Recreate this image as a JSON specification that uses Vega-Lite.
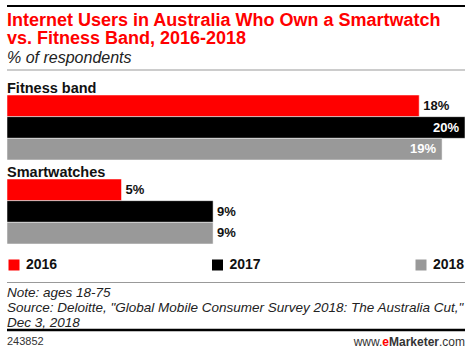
{
  "$schema": "https://vega.github.io/schema/vega-lite/v6.json",
  "padding": {"left": 6, "right": 6, "top": 5, "bottom": 0},
  "spacing": 0,
  "background": "white",
  "config": {"view": {"stroke": null}, "font": "Liberation Sans"},
  "resolve": {"scale": {"color": "independent"}, "legend": {"color": "independent"}},
  "vconcat": [
    {
      "width": 458,
      "height": 75.5,
      "resolve": {"scale": {"x": "independent", "y": "independent"}},
      "layer": [
        {
          "data": {"values": [{"i": 1, "t": "Internet Users in Australia Who Own a Smartwatch"}, {"i": 2, "t": "vs. Fitness Band, 2016-2018"}]},
          "mark": {"type": "text", "align": "left", "baseline": "middle", "font": "Liberation Sans", "fontSize": 18, "fontWeight": "bold", "color": "#ff0000"},
          "encoding": {
            "x": {"value": 0},
            "y": {"field": "i", "type": "ordinal", "axis": null, "scale": {"type": "point", "domain": [1, 2, 3], "padding": 1, "align": 0.413}},
            "text": {"field": "t"}
          }
        },
        {
          "data": {"values": [{"i": 3, "t": "% of respondents"}]},
          "mark": {"type": "text", "align": "left", "baseline": "middle", "font": "Liberation Sans", "fontSize": 16, "fontStyle": "italic", "color": "#222222"},
          "encoding": {
            "x": {"value": 0},
            "y": {"field": "i", "type": "ordinal", "axis": null, "scale": {"type": "point", "domain": [1, 2, 3], "padding": 1, "align": 0.413}},
            "text": {"field": "t"}
          }
        },
        {
          "data": {"values": [{"line": "top"}]},
          "mark": {"type": "bar", "color": "#000000"},
          "encoding": {
            "x": {"field": "line", "type": "nominal", "axis": null, "scale": {"paddingInner": 0, "paddingOuter": 0}},
            "y": {"aggregate": "count", "type": "quantitative", "axis": null, "scale": {"domain": [0, 37.75], "nice": false, "reverse": true}}
          }
        },
        {
          "data": {"values": [{"line": "under title"}]},
          "mark": {"type": "bar", "color": "#999999"},
          "encoding": {
            "x": {"field": "line", "type": "nominal", "axis": null, "scale": {"paddingInner": 0, "paddingOuter": 0}},
            "y": {"aggregate": "count", "type": "quantitative", "axis": null, "scale": {"domain": [-10, 65.5], "nice": false}}
          }
        }
      ]
    },
    {
      "data": {
        "values": [
          {"group": "Fitness band", "year": "2016", "value": 0.18},
          {"group": "Fitness band", "year": "2017", "value": 0.20},
          {"group": "Fitness band", "year": "2018", "value": 0.19},
          {"group": "Smartwatches", "year": "2016", "value": 0.05},
          {"group": "Smartwatches", "year": "2017", "value": 0.09},
          {"group": "Smartwatches", "year": "2018", "value": 0.09}
        ]
      },
      "facet": {
        "field": "group",
        "type": "nominal",
        "sort": ["Fitness band", "Smartwatches"],
        "header": {
          "title": null,
          "labelAnchor": "start",
          "labelFont": "Liberation Sans",
          "labelFontSize": 14.5,
          "labelFontWeight": "bold",
          "labelColor": "#111111",
          "labelPadding": -2
        }
      },
      "columns": 1,
      "spacing": {"row": 4},
      "spec": {
        "width": 458,
        "height": 65,
        "encoding": {
          "y": {"field": "year", "type": "nominal", "axis": null, "scale": {"paddingInner": 0, "paddingOuter": 0}},
          "x": {"field": "value", "type": "quantitative", "axis": null, "scale": {"domain": [0, 0.2], "nice": false, "zero": true}}
        },
        "layer": [
          {
            "mark": {"type": "bar", "stroke": "#ffffff", "strokeWidth": 0.5},
            "encoding": {
              "color": {
                "field": "year",
                "type": "nominal",
                "scale": {"domain": ["2016", "2017", "2018"], "range": ["#ff0000", "#000000", "#999999"]},
                "legend": {
                  "title": null,
                  "orient": "bottom",
                  "direction": "horizontal",
                  "symbolType": "square",
                  "symbolSize": 121,
                  "symbolStrokeWidth": 0,
                  "symbolOpacity": 1,
                  "labelFont": "Liberation Sans",
                  "labelFontSize": 14,
                  "labelFontWeight": "bold",
                  "labelColor": "#111111",
                  "labelOffset": 5,
                  "columnPadding": 152.5,
                  "offset": 13,
                  "padding": 0
                }
              }
            }
          },
          {
            "transform": [{"filter": "datum.value < 0.19"}],
            "mark": {"type": "text", "align": "left", "baseline": "middle", "dx": 4, "font": "Liberation Sans", "fontSize": 13, "fontWeight": "bold", "color": "#111111"},
            "encoding": {"text": {"field": "value", "type": "quantitative", "format": ".0%"}}
          },
          {
            "transform": [{"filter": "datum.value >= 0.19"}],
            "mark": {"type": "text", "align": "right", "baseline": "middle", "dx": -6, "font": "Liberation Sans", "fontSize": 13, "fontWeight": "bold", "color": "#ffffff"},
            "encoding": {"text": {"field": "value", "type": "quantitative", "format": ".0%"}}
          }
        ]
      }
    },
    {
      "width": 458,
      "height": 59.2,
      "resolve": {"scale": {"x": "independent", "y": "independent"}},
      "layer": [
        {
          "data": {
            "values": [
              {"i": 1, "t": "Note: ages 18-75"},
              {"i": 2, "t": "Source: Deloitte, \"Global Mobile Consumer Survey 2018: The Australia Cut,\""},
              {"i": 3, "t": "Dec 3, 2018"}
            ]
          },
          "mark": {"type": "text", "align": "left", "baseline": "middle", "font": "Liberation Sans", "fontStyle": "italic", "fontSize": 13.5, "color": "#222222"},
          "encoding": {
            "x": {"value": 0},
            "y": {"field": "i", "type": "ordinal", "axis": null, "scale": {"type": "point", "padding": 1, "align": 0.726}},
            "text": {"field": "t"}
          }
        },
        {
          "data": {"values": [{"line": "above notes"}]},
          "mark": {"type": "bar", "color": "#999999"},
          "encoding": {
            "x": {"field": "line", "type": "nominal", "axis": null, "scale": {"paddingInner": 0, "paddingOuter": 0}},
            "y": {"aggregate": "count", "type": "quantitative", "axis": null, "scale": {"domain": [-10, 49.2], "nice": false, "reverse": true}}
          }
        },
        {
          "data": {"values": [{"line": "bottom"}]},
          "mark": {"type": "bar", "color": "#000000"},
          "encoding": {
            "x": {"field": "line", "type": "nominal", "axis": null, "scale": {"paddingInner": 0, "paddingOuter": 0}},
            "y": {"aggregate": "count", "type": "quantitative", "axis": null, "scale": {"domain": [0, 24.67], "nice": false}}
          }
        }
      ]
    },
    {
      "width": 458,
      "height": 20.5,
      "data": {"values": [{"id": "243852", "a": "www.", "b": "e", "c": "Marketer", "d": ".com"}]},
      "layer": [
        {
          "mark": {"type": "text", "align": "left", "baseline": "middle", "font": "Liberation Sans", "fontSize": 11, "color": "#333333"},
          "encoding": {"x": {"value": 0}, "text": {"field": "id"}}
        },
        {
          "mark": {"type": "text", "align": "right", "baseline": "middle", "font": "Liberation Sans", "fontSize": 12, "color": "#333333"},
          "encoding": {"x": {"value": "width"}, "text": {"field": "d"}}
        },
        {
          "mark": {"type": "text", "align": "right", "baseline": "middle", "dx": -26, "font": "Liberation Sans", "fontSize": 12, "fontWeight": "bold", "color": "#333333"},
          "encoding": {"x": {"value": "width"}, "text": {"field": "c"}}
        },
        {
          "mark": {"type": "text", "align": "right", "baseline": "middle", "dx": -76, "font": "Liberation Sans", "fontSize": 12, "fontWeight": "bold", "color": "#ff0000"},
          "encoding": {"x": {"value": "width"}, "text": {"field": "b"}}
        },
        {
          "mark": {"type": "text", "align": "right", "baseline": "middle", "dx": -82.7, "font": "Liberation Sans", "fontSize": 12, "color": "#333333"},
          "encoding": {"x": {"value": "width"}, "text": {"field": "a"}}
        }
      ]
    }
  ]
}
